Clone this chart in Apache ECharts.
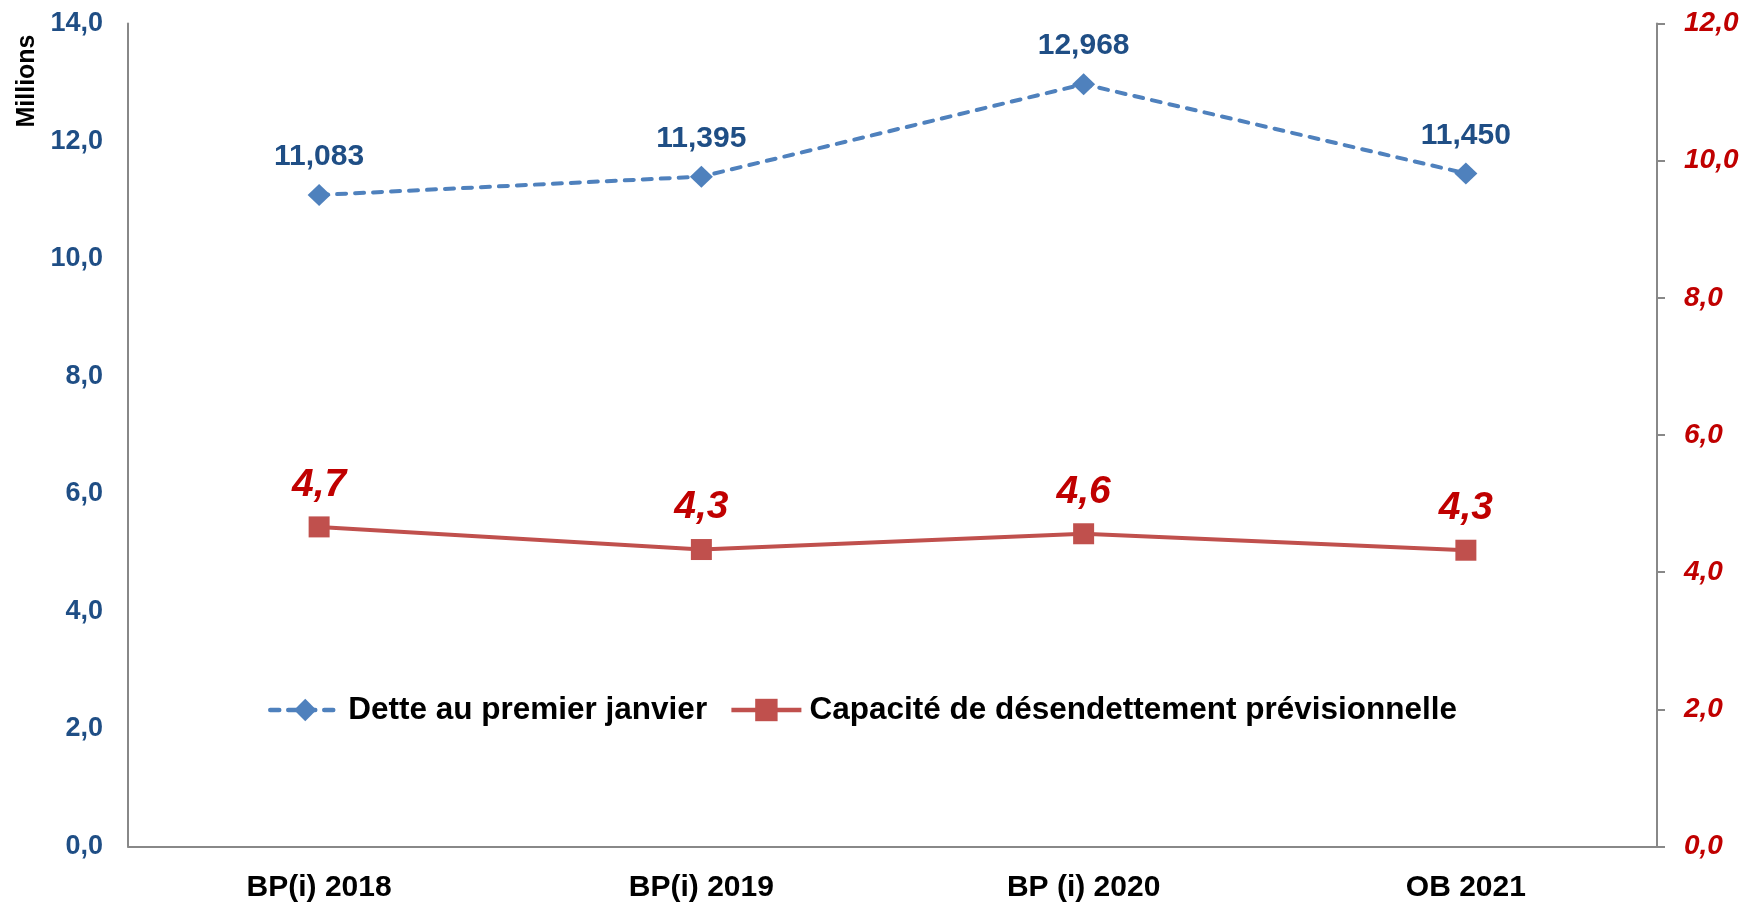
<!DOCTYPE html>
<html>
<head>
<meta charset="utf-8">
<script src="https://cdn.jsdelivr.net/npm/echarts@6/dist/echarts.min.js"></script>
<style>
html, body { margin: 0; padding: 0; background: #fff; }
#main { width: 1751px; height: 906px; }
</style>
</head>
<body>
<div id="main"></div>
<script>
// données
var categories = ['BP(i) 2018', 'BP(i) 2019', 'BP (i) 2020', 'OB 2021'];
var dette = [11.083, 11.395, 12.968, 11.450];
var capacite = [4.66, 4.33, 4.56, 4.32];
var serieNames = ['Dette au premier janvier', 'Capacité de désendettement prévisionnelle'];

var myChart = echarts.init(document.getElementById('main'));

function virgule(v, d) {
	return v.toFixed(d).replace('.', ',');
}

var fontFam = 'Liberation Sans, Arial, sans-serif';

option = {
    animation: false,
    grid: {left: 128, right: 94, top: 23.5, bottom: 59.5},
    legend: {
        left: 263, top: 689,
        itemWidth: 70, itemHeight: 28, itemGap: 22,
        lineStyle: {width: 4.5},
        textStyle: {fontFamily: fontFam, fontSize: 31.5, fontWeight: 'bold', color: '#000', padding: [0, 0, 0, 3]},
        data: serieNames
    },
    graphic: [{
        type: 'text', x: 27, y: 81, rotation: Math.PI / 2,
        style: {text: 'Millions', fontFamily: fontFam, fontSize: 25, fontWeight: 'bold', fill: '#000', align: 'center', verticalAlign: 'middle'}
    }],
    xAxis: [{
        type: 'category', data: categories, boundaryGap: true,
        axisLine: {lineStyle: {color: '#888', width: 2}},
        axisTick: {show: false},
        axisLabel: {fontFamily: fontFam, fontSize: 30, fontWeight: 'bold', color: '#000', margin: 26}
    }],
    yAxis: [{
        type: 'value', min: 0, max: 14, interval: 2,
        axisLine: {show: true, lineStyle: {color: '#888', width: 2}},
        axisTick: {show: false},
        splitLine: {show: false},
        axisLabel: {fontFamily: fontFam, fontSize: 27, fontWeight: 'bold', color: '#1F4E85', margin: 25,
            formatter: function (v) { return virgule(v, 1); }}
    }, {
        type: 'value', min: 0, max: 12, interval: 2, position: 'right',
        axisLine: {show: true, lineStyle: {color: '#888', width: 2}},
        axisTick: {show: true, length: 8, lineStyle: {color: '#888', width: 2}},
        splitLine: {show: false},
        axisLabel: {fontFamily: fontFam, fontSize: 28, fontWeight: 'bold', fontStyle: 'italic', color: '#C00000', margin: 27,
            formatter: function (v) { return virgule(v, 1); }}
    }],
    series: [{
        name: serieNames[0], type: 'line', yAxisIndex: 0, data: dette,
        symbol: 'diamond', symbolSize: [23, 22],
        itemStyle: {color: '#4F81BD'},
        lineStyle: {color: '#4F81BD', width: 4, type: [9, 9], cap: 'round'},
        label: {show: true, position: 'top', distance: 12, fontFamily: fontFam, fontSize: 30, fontWeight: 'bold', color: '#1F4E85',
            formatter: function (p) { return virgule(p.value, 3); }}
    }, {
        name: serieNames[1], type: 'line', yAxisIndex: 1, data: capacite,
        symbol: 'rect', symbolSize: [21, 21],
        itemStyle: {color: '#C0504D'},
        lineStyle: {color: '#C0504D', width: 4},
        label: {show: true, position: 'top', distance: 12, fontFamily: fontFam, fontSize: 39, fontWeight: 'bold', fontStyle: 'italic', color: '#C00000',
            formatter: function (p) { return virgule(p.value, 1); }}
    }]
};
myChart.setOption(option);
</script>
</body>
</html>
